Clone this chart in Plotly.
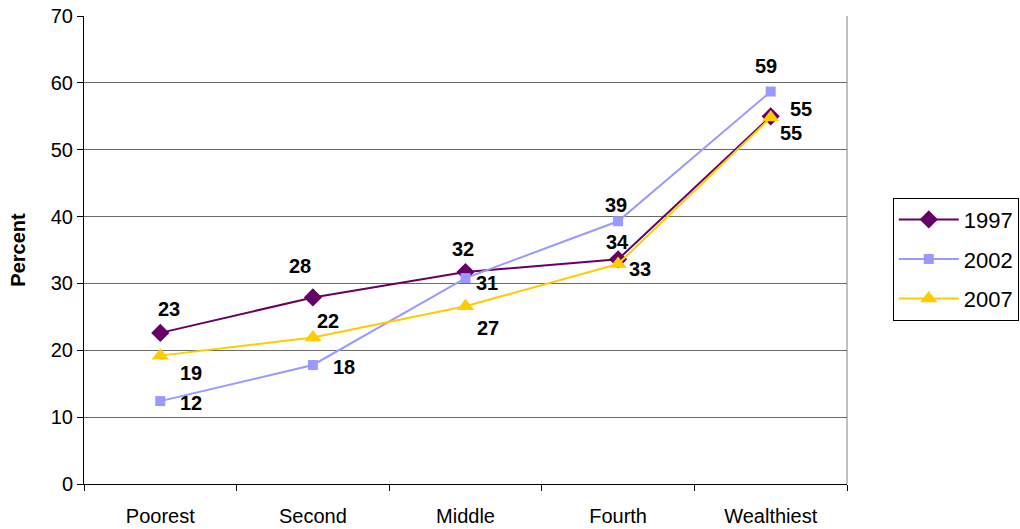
import plotly.graph_objects as go

categories = ["Poorest", "Second", "Middle", "Fourth", "Wealthiest"]
years = ["1997", "2002", "2007"]
values_1997 = [22.6, 27.9, 31.7, 33.6, 55.0]
values_2002 = [12.4, 17.8, 30.8, 39.3, 58.7]
values_2007 = [19.2, 21.9, 26.6, 32.9, 54.8]

series = {"1997": values_1997, "2002": values_2002, "2007": values_2007}
styles = {
    "1997": dict(color="#660066", symbol="diamond", size=14),
    "2002": dict(color="#9999FF", symbol="square", size=10),
    "2007": dict(color="#FFCC00", symbol="triangle-up", size=15),
}
# pixel offsets of each value label relative to its point
label_offsets = {
    "1997": [(9, -24), (-13, -31), (-3, -23), (-1, -17), (30, -7)],
    "2002": [(31, 2), (31, 2), (21, 5), (-2, -16), (-5, -26)],
    "2007": [(31, 17), (15, -17), (22, 22), (22, 5), (20, 15)],
}

FONT = "Liberation Sans, Arial"

fig = go.Figure()
for yr in years:
    st = styles[yr]
    fig.add_trace(go.Scatter(
        x=categories, y=series[yr], name=yr, mode="lines+markers",
        legendgroup=yr,
        line=dict(color=st["color"], width=2),
        marker=dict(color=st["color"], symbol=st["symbol"], size=st["size"]),
    ))
    for cat, v, (dx, dy) in zip(categories, series[yr], label_offsets[yr]):
        fig.add_annotation(
            x=cat, y=v, text=f"<b>{v:.0f}</b>", showarrow=False,
            xshift=dx, yshift=-dy,
            font=dict(family=FONT, size=20, color="black"),
        )

fig.update_layout(
    width=1020, height=529,
    margin=dict(l=84, r=173, t=16, b=45, autoexpand=False),
    paper_bgcolor="white", plot_bgcolor="white",
    font=dict(family=FONT, size=20, color="black"),
    showlegend=True,
    legend=dict(
        x=1.06, y=0.612, xanchor="left", yanchor="top",
        bordercolor="black", borderwidth=1,
        font=dict(size=22), tracegroupgap=8, itemwidth=60,
    ),
)
fig.update_xaxes(
    type="category", range=[-0.5, 4.5], tickson="boundaries",
    ticks="outside", ticklen=6, tickcolor="black", automargin=False,
    showline=True, linecolor="black", linewidth=1, mirror=False,
    showgrid=False, zeroline=False, ticklabelstandoff=14,
)
fig.update_yaxes(
    range=[0, 70], dtick=10, ticks="outside", ticklen=6, tickcolor="black",
    showline=True, linecolor="black", linewidth=1, automargin=False,
    showgrid=True, gridcolor="#6a6a6a", gridwidth=1, zeroline=False,
    title=dict(text="<b>Percent</b>", font=dict(size=20), standoff=19),
)
# right border of the plotting area
fig.add_shape(type="line", xref="paper", yref="paper", x0=1, x1=1, y0=0, y1=1,
              line=dict(color="#808080", width=1))

fig.write_html("out.html")
